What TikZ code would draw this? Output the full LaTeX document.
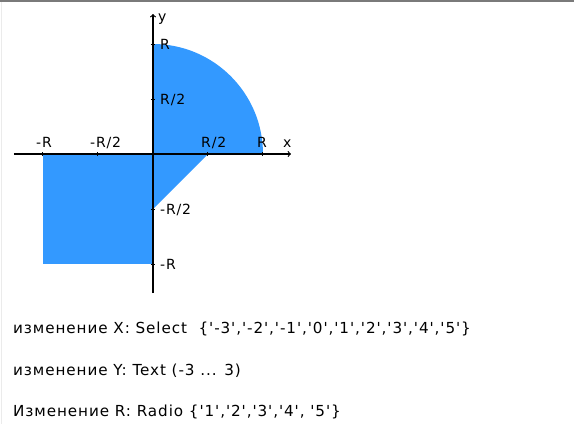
\documentclass[tikz,border=0pt]{standalone}
\usepackage{fontspec}
\setmainfont{DejaVu Sans}[Ligatures=TeXOff, LetterSpace=6]
\definecolor{areablue}{HTML}{3399FF}
\definecolor{framegray}{HTML}{7A7A7A}
\definecolor{edgegray}{HTML}{EBEBEB}
\tikzset{
    axisline/.style={line width=1.2pt, -to},
    tickmark/.style={line width=1pt},
    ticklabel/.style={font=\fontsize{14}{16}\selectfont, inner sep=0pt},
    infotext/.style={font=\fontsize{15.2}{17}\selectfont, inner sep=0pt, anchor=base west},
}
\begin{document}
\begin{tikzpicture}[x=1pt, y=1pt]
    \useasboundingbox (-153,-270) rectangle (421,154);
    % Page frame
    \fill[framegray] (-153,152.5) rectangle (421,154);
    \draw[edgegray, line width=1pt] (-151.5,-270) -- (-151.5,152.5);

    % Area
    \def\R{110}
    \fill[areablue] (0,0) -- (\R,0) arc (0:90:\R) -- cycle;
    \fill[areablue] (-\R,0) rectangle (0,-\R);
    \fill[areablue] (0,0) -- (\R/2,0) -- (0,-\R/2) -- cycle;

    % Axes
    \coordinate (xstart) at (-139,0);
    \coordinate (xend) at (138,0);
    \coordinate (ystart) at (0,-139);
    \coordinate (yend) at (0,140);
    \draw[axisline] (xstart) -- (xend);
    \draw[axisline] (ystart) -- (yend);
    \foreach \t in {-110,-55,55,110} {
        \draw[tickmark] (\t,-2) -- (\t,2);
        \draw[tickmark] (-2,\t) -- (2,\t);
    }
    \node[ticklabel, anchor=base west] (xname) at (130,7) {x};
    \node[ticklabel, anchor=base west] (yname) at (5,133) {y};

    % Labels on x
    \node[ticklabel, anchor=base west] (xmR) at (-117,7) {-R};
    \node[ticklabel, anchor=base west] (xmhalf) at (-63,7) {-R/2};
    \node[ticklabel, anchor=base west] (xphalf) at (48,7) {R/2};
    \node[ticklabel, anchor=base west] (xpR) at (104,7) {R};

    % Labels on y
    \node[ticklabel, anchor=base west] (ypR) at (7,105) {R};
    \node[ticklabel, anchor=base west] (yphalf) at (7,50) {R/2};
    \node[ticklabel, anchor=base west] (ymhalf) at (7,-60) {-R/2};
    \node[ticklabel, anchor=base west] (ymR) at (7,-115) {-R};

    % Input ranges
    \node[infotext] (linex) at (-140,-179) {изменение X: Select\ \ \{'-3','-2','-1','0','1','2','3','4','5'\}};
    \node[infotext] (liney) at (-140,-221) {изменение Y: Text (-3 ... 3)};
    \node[infotext] (liner) at (-140,-262) {Изменение R: Radio \{'1','2','3','4', '5'\}};
\end{tikzpicture}
\end{document}
